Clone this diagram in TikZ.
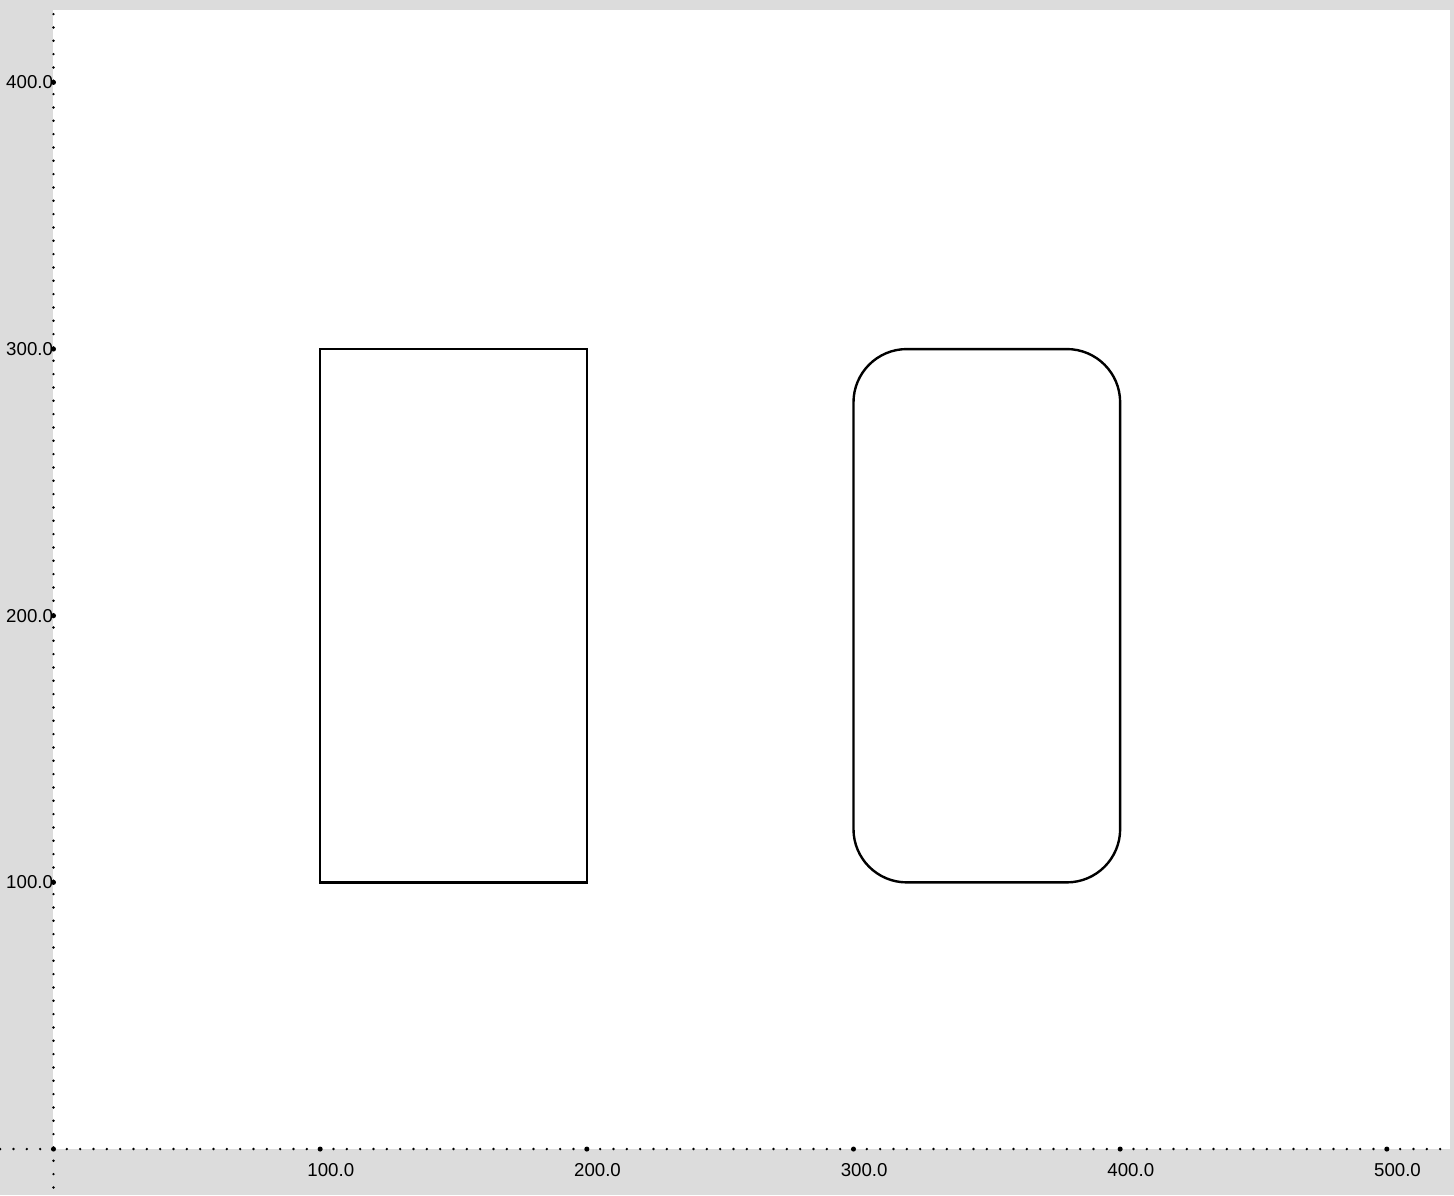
\documentclass[tikz,border=0pt]{standalone}
\usepackage{fontspec}
\setmainfont{Liberation Sans}
\definecolor{paneback}{HTML}{DCDCDC}
\tikzset{
  axisdots/.style={line width=1pt, line cap=round, dash pattern=on 0pt off 5pt},
  tickdot/.style={fill, circle, inner sep=0pt, minimum size=1.9pt},
  ticklabel/.style={inner sep=0pt, font=\fontsize{7}{8}\selectfont},
  shapebox/.style={draw, line width=0.9pt, inner sep=0pt, minimum width=100pt, minimum height=200pt}
}
\begin{document}
\begin{tikzpicture}[x=1pt, y=1pt]
        % Fundo e area de desenho
        \fill[paneback] (-20.06,-17.25) rectangle (525.2,430.9);
        \useasboundingbox (-20.06,-17.25) rectangle (525.2,430.9);
        \fill[white] (0,0) rectangle (523.7,427.1);

        % Eixos pontilhados
        \coordinate (xa) at (-20,0);
        \coordinate (xb) at (523,0);
        \coordinate (ya) at (0,-14.4);
        \coordinate (yb) at (0,426);
        \draw[axisdots] (xa) -- (xb);
        \draw[axisdots] (ya) -- (yb);

        % Marcas e rotulos
        \node[tickdot] (o) at (0,0) {};
        \foreach \v in {100,200,300,400,500} {
          \node[tickdot] (tx\v) at (\v,0) {};
          \node[ticklabel] (lx\v) at (\v+4,-8) {\v.0};
        }
        \foreach \v in {100,200,300,400} {
          \node[tickdot] (ty\v) at (0,\v) {};
          \node[ticklabel, anchor=east] (ly\v) at (0,\v) {\v.0};
        }

        % Retangulos
        \node[shapebox] (R) at (150,200) {};
        \node[shapebox, rounded corners=20pt] (RR) at (350,200) {};
      \end{tikzpicture}
\end{document}
